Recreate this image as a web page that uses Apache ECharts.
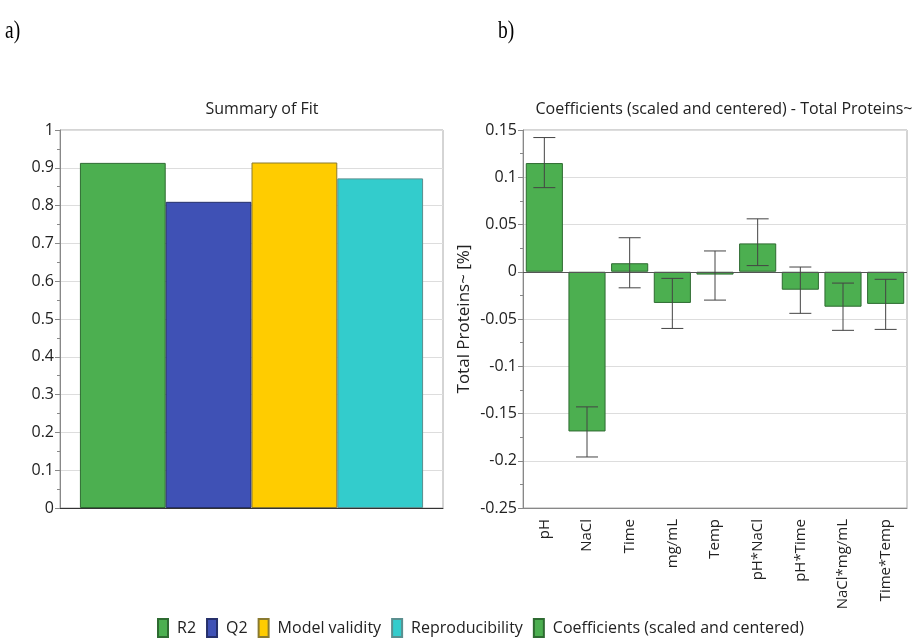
<!DOCTYPE html>
<html>
<head>
<meta charset="utf-8">
<script src="https://cdn.jsdelivr.net/npm/echarts@6/dist/echarts.min.js"></script>
<style>
html,body{margin:0;padding:0;background:#fff;}
#chart{width:912px;height:640px;}
</style>
</head>
<body>
<div id="chart"></div>
<script>
// ---- data ----
const fitNames = ['R2', 'Q2', 'Model validity', 'Reproducibility'];
const fitValues = [0.913, 0.810, 0.914, 0.872];
const fitColors = ['#4caf50', '#3f51b5', '#ffcc00', '#33cccc'];
const fitBorders = ['#2e6b31', '#26306b', '#8a7a30', '#5a8f8f'];

const coefName = 'Coefficients (scaled and centered)';
const coefCats = ['pH', 'NaCl', 'Time', 'mg/mL', 'Temp', 'pH*NaCl', 'pH*Time', 'NaCl*mg/mL', 'Time*Temp'];
const coefValues = [0.115, -0.169, 0.009, -0.033, -0.003, 0.030, -0.019, -0.037, -0.034];
const errLow = [0.089, -0.196, -0.017, -0.060, -0.030, 0.0065, -0.044, -0.062, -0.061];
const errHigh = [0.142, -0.143, 0.036, -0.007, 0.022, 0.056, 0.005, -0.012, -0.008];

const font = 'Open Sans';
const chart = echarts.init(document.getElementById('chart'), null, {renderer: 'canvas'});

const fitSeries = fitNames.map((n, i) => ({
  name: n,
  type: 'bar',
  xAxisIndex: 0,
  yAxisIndex: 0,
  barGap: '0%',
  barCategoryGap: '10.4%',
  data: [fitValues[i]],
  itemStyle: {color: fitColors[i], borderColor: fitBorders[i], borderWidth: 1},
  emphasis: {disabled: true},
  silent: true
}));

const errData = coefCats.map((c, i) => [i, errLow[i], errHigh[i]]);

const option = {
  animation: false,
  textStyle: {fontFamily: font},
  title: [
    {text: 'Summary of Fit', left: 257, top: 96, textAlign: 'center',
     textStyle: {fontFamily: font, fontSize: 16, fontWeight: 'normal', color: '#222'}},
    {text: 'Coefficients (scaled and centered) - Total Proteins~', left: 719, top: 96, textAlign: 'center',
     textStyle: {fontFamily: font, fontSize: 16, fontWeight: 'normal', color: '#222'}}
  ],
  graphic: [
    {type: 'text', left: 5, top: 18, scaleX: 0.75, style: {text: 'a)', font: '26px "Liberation Serif"', fill: '#000'}},
    {type: 'text', left: 498, top: 18, scaleX: 0.75, style: {text: 'b)', font: '26px "Liberation Serif"', fill: '#000'}}
  ],
  legend: {
    left: 152,
    top: 613,
    itemWidth: 10,
    itemHeight: 18,
    itemGap: 10,
    icon: 'rect',
    selectedMode: false,
    data: fitNames.concat([coefName]),
    textStyle: {fontFamily: font, fontSize: 16, color: '#222', padding: [0, 0, 0, 4]}
  },
  grid: [
    {left: 60, top: 130, width: 383, height: 378, show: true, borderColor: '#aaa', borderWidth: 1, containLabel: false},
    {left: 523, top: 130, width: 384, height: 378, show: true, borderColor: '#aaa', borderWidth: 1, containLabel: false}
  ],
  xAxis: [
    {type: 'category', gridIndex: 0, data: ['Fit'],
     axisLine: {lineStyle: {color: '#333'}}, axisTick: {show: false}, axisLabel: {show: false}},
    {type: 'category', gridIndex: 1, data: coefCats,
     axisLine: {onZero: false, lineStyle: {color: '#888'}},
     axisTick: {alignWithLabel: true, length: 5, lineStyle: {color: '#888'}},
     axisLabel: {rotate: 90, interval: 0, margin: 11, fontFamily: font, fontSize: 15, color: '#222'}}
  ],
  yAxis: [
    {type: 'value', gridIndex: 0, min: 0, max: 1, interval: 0.1,
     axisLine: {show: true, lineStyle: {color: '#888'}},
     axisTick: {show: true, length: 5, lineStyle: {color: '#888'}},
     minorTick: {show: true, splitNumber: 2, length: 3, lineStyle: {color: '#888'}},
     splitLine: {show: true, lineStyle: {color: '#ddd'}},
     axisLabel: {fontFamily: font, fontSize: 16, color: '#222', margin: 6,
       formatter: v => String(parseFloat(v.toFixed(2)))}},
    {type: 'value', gridIndex: 1, min: -0.25, max: 0.15, interval: 0.05,
     name: 'Total Proteins~ [%]', nameLocation: 'middle', nameRotate: 90, nameGap: 50,
     nameTextStyle: {fontFamily: font, fontSize: 17, color: '#222'},
     axisLine: {show: true, lineStyle: {color: '#888'}},
     axisTick: {show: true, length: 5, lineStyle: {color: '#888'}},
     minorTick: {show: true, splitNumber: 2, length: 3, lineStyle: {color: '#888'}},
     splitLine: {show: true, lineStyle: {color: '#ddd'}},
     axisLabel: {fontFamily: font, fontSize: 16, color: '#222', margin: 6,
       formatter: v => String(parseFloat(v.toFixed(2)))}}
  ],
  series: fitSeries.concat([
    {
      name: coefName,
      type: 'bar',
      xAxisIndex: 1,
      yAxisIndex: 1,
      barCategoryGap: '13%',
      data: coefValues,
      itemStyle: {color: '#4caf50', borderColor: '#2e6b31', borderWidth: 1},
      emphasis: {disabled: true},
      silent: true,
      markLine: {
        silent: true,
        symbol: 'none',
        label: {show: false},
        lineStyle: {color: '#555', width: 1, type: 'solid'},
        data: [{yAxis: 0}]
      }
    },
    {
      type: 'custom',
      xAxisIndex: 1,
      yAxisIndex: 1,
      silent: true,
      encode: {x: 0, y: [1, 2]},
      data: errData,
      z: 10,
      renderItem: function (params, api) {
        const idx = api.value(0);
        const lo = api.coord([idx, api.value(1)]);
        const hi = api.coord([idx, api.value(2)]);
        const half = 11;
        const style = {stroke: '#444', lineWidth: 1};
        return {
          type: 'group',
          children: [
            {type: 'line', shape: {x1: lo[0], y1: lo[1], x2: hi[0], y2: hi[1]}, style: style},
            {type: 'line', shape: {x1: lo[0] - half, y1: lo[1], x2: lo[0] + half, y2: lo[1]}, style: style},
            {type: 'line', shape: {x1: hi[0] - half, y1: hi[1], x2: hi[0] + half, y2: hi[1]}, style: style}
          ]
        };
      }
    }
  ])
};
chart.setOption(option);
</script>
</body>
</html>
